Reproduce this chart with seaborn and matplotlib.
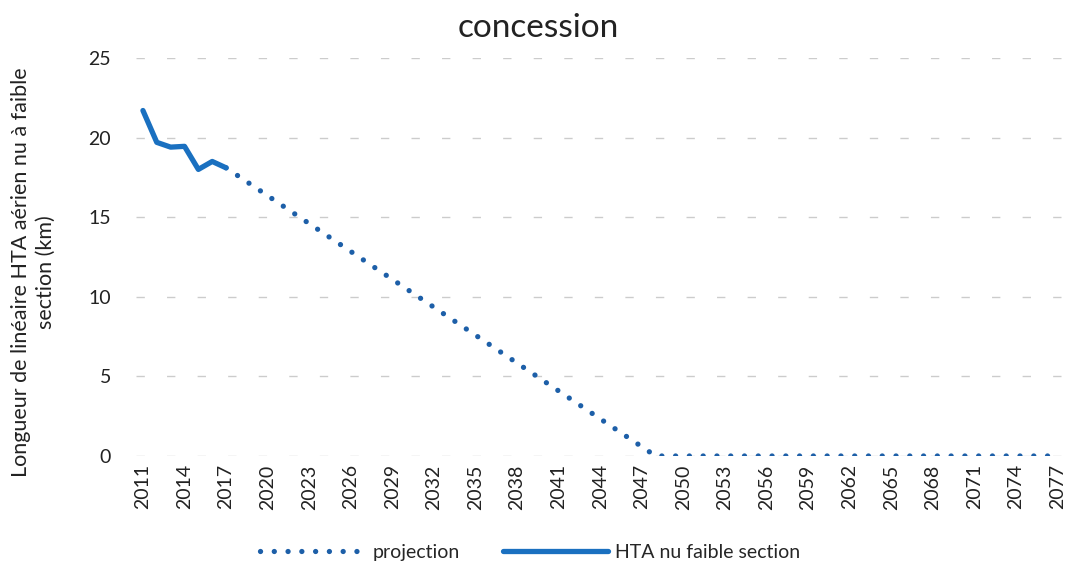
import matplotlib
matplotlib.use("Agg")
import matplotlib.pyplot as plt
import seaborn as sns
import pandas as pd

# ---- data ----
hist_years = [2011, 2012, 2013, 2014, 2015, 2016, 2017]
hist_values = [21.7, 19.7, 19.4, 19.45, 18.0, 18.5, 18.1]
proj_years = [2017, 2048, 2077]
proj_values = [18.1, 0.0, 0.0]
xtick_years = list(range(2011, 2078, 3))
ytick_values = [0, 5, 10, 15, 20, 25]
title = "concession"
ylabel = "Longueur de linéaire HTA aérien nu à faible\nsection (km)"
label_proj = "projection"
label_hist = "HTA nu faible section"

sns.set_theme(style="white")
plt.rcParams['font.family'] = ['Lato', 'DejaVu Sans']

fig = plt.figure(figsize=(10.82, 5.74), dpi=100)
ax = fig.add_axes([0.1257, 0.2056, 0.858, 0.6934])

df_hist = pd.DataFrame({"year": hist_years, "value": hist_values})
df_proj = pd.DataFrame({"year": proj_years, "value": proj_values})

for y in ytick_values:
    ax.axhline(y, color="#cccccc", lw=1.0, ls=(0, (6, 16)), zorder=0)

sns.lineplot(data=df_proj, x="year", y="value", ax=ax, color="#1d5fa8",
             lw=3.8, label=label_proj)
proj_line = ax.lines[-1]
proj_line.set_linestyle((0, (0.01, 2.6)))
proj_line.set_dash_capstyle("round")

sns.lineplot(data=df_hist, x="year", y="value", ax=ax, color="#1a70c0",
             lw=3.8, label=label_hist)
ax.lines[-1].set_solid_capstyle("round")
ax.lines[-1].set_solid_joinstyle("round")

ax.set_xlim(2010.5, 2077.5)
ax.set_ylim(0, 25)
ax.set_xticks(xtick_years)
ax.set_xticklabels([str(y) for y in xtick_years], rotation=90, fontsize=14, color="#222222")
ax.set_yticks(ytick_values)
ax.set_yticklabels([str(v) for v in ytick_values], fontsize=14, color="#222222")
ax.tick_params(axis="y", pad=18, length=0)
ax.tick_params(axis="x", pad=6, length=0)
ax.set_xlabel("")
ax.set_ylabel("")
for s in ax.spines.values():
    s.set_visible(False)

handles, labels = ax.get_legend_handles_labels()
ax.get_legend().remove()
fig.legend(handles, labels, loc="lower center", bbox_to_anchor=(0.49, -0.008),
           ncol=2, frameon=False, fontsize=14, handlelength=5.4,
           columnspacing=2.2, handletextpad=0.4)

fig.text(0.497, 0.952, title, ha="center", va="center", fontsize=24, color="#222222")
fig.text(0.031, 0.526, ylabel, rotation=90, ha="center", va="center",
         fontsize=15.5, color="#222222", linespacing=1.3)

fig.savefig("out.png", dpi=100)
